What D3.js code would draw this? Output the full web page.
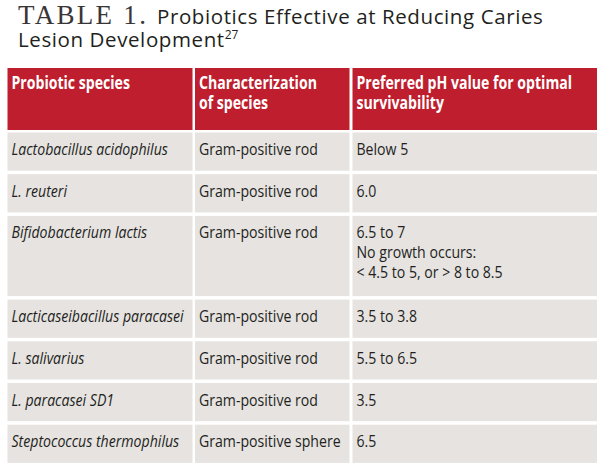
<!DOCTYPE html>
<html><head><meta charset="utf-8">
<script src="https://cdn.jsdelivr.net/npm/d3@7"></script>
<style>html,body{margin:0;padding:0;background:#fff}svg{display:block}</style></head>
<body><svg id="c" width="609" height="471"></svg>
<script>
// ---- data ----
const titleLead = "TABLE 1.";
const titleLine1 = "Probiotics Effective at Reducing Caries";
const titleLine2 = "Lesion Development";
const titleRef = "27";
const headers = [["Probiotic species"], ["Characterization", "of species"], ["Preferred pH value for optimal", "survivability"]];
const species = ["Lactobacillus acidophilus", "L. reuteri", "Bifidobacterium lactis", "Lacticaseibacillus paracasei", "L. salivarius", "L. paracasei SD1", "Steptococcus thermophilus"];
const characterization = ["Gram-positive rod", "Gram-positive rod", "Gram-positive rod", "Gram-positive rod", "Gram-positive rod", "Gram-positive rod", "Gram-positive sphere"];
const phValues = [["Below 5"], ["6.0"], ["6.5 to 7", "No growth occurs:", "< 4.5 to 5, or > 8 to 8.5"], ["3.5 to 3.8"], ["5.5 to 6.5"], ["3.5"], ["6.5"]];

// ---- layout ----
const RED = "#be1e2d", GRAY = "#e6e3e0", INK = "#231f20";
const FONT = "'Open Sans', 'Noto Sans', sans-serif";
const SX = 0.83; // horizontal condensing to mimic a condensed face
const svg = d3.select("#c");

const colX = d3.scaleOrdinal().domain([0, 1, 2]).range([7.5, 195, 352.5]);
const colW = d3.scaleOrdinal().domain([0, 1, 2]).range([185, 154.5, 244.5]);

const headerTop = 68, headerH = 62, rowBase = 38.2, lineStep = 21, gap = 3.5, padX = 4, baseOff = 22.5;

const rows = species.map((s, i) => ({ cells: [[s], [characterization[i]], phValues[i]] }));
let y = headerTop + headerH + 2.5;
rows.forEach(r => {
  const n = d3.max(r.cells, c => c.length);
  r.y = y; r.h = rowBase + (n - 1) * lineStep; y += r.h + gap;
});

// one text element per cell, lines as tspans
function condText(g, x, yy, lines, step, o) {
  const tx = g.append("text")
    .attr("transform", `translate(${x},${yy}) scale(${SX},1)`)
    .attr("font-family", FONT).attr("font-size", o.size)
    .attr("font-weight", o.weight || "normal").attr("font-style", o.style || "normal")
    .attr("fill", o.fill);
  lines.forEach((l, li) => tx.append("tspan").attr("x", 0).attr("y", li * step).text(l));
  return tx;
}

// title (single text element)
const SANS = "'Open Sans', 'Noto Sans', sans-serif";
const t = svg.append("text").attr("fill", INK).attr("font-family", SANS).attr("font-size", 20.5);
t.append("tspan").attr("x", 18).attr("y", 24).text(titleLead)
  .attr("font-family", "'Liberation Serif', 'DejaVu Serif', serif").attr("font-size", 27)
  .attr("letter-spacing", 2.3).attr("fill", "#3a3536");
t.append("tspan").attr("x", 157).attr("y", 24).attr("letter-spacing", 0.6).text(titleLine1);
t.append("tspan").attr("x", 18).attr("y", 46.5).attr("letter-spacing", 0.6).text(titleLine2);
t.append("tspan").attr("dy", -8).attr("font-size", 12).text(titleRef);

// header
const hg = svg.append("g");
headers.forEach((lines, ci) => {
  hg.append("rect").attr("x", colX(ci)).attr("y", headerTop).attr("width", colW(ci)).attr("height", headerH).attr("fill", RED);
  condText(hg, colX(ci) + padX, headerTop + 21, lines, 20.5, { size: 17, weight: "bold", fill: "#fff" });
});

// body
const rg = svg.selectAll("g.row").data(rows).join("g").attr("class", "row");
rg.each(function (r) {
  const g = d3.select(this);
  r.cells.forEach((lines, ci) => {
    g.append("rect").attr("x", colX(ci)).attr("y", r.y).attr("width", colW(ci)).attr("height", r.h).attr("fill", GRAY);
    condText(g, colX(ci) + padX, r.y + baseOff, lines, 20,
      { size: 17, style: ci === 0 ? "italic" : "normal", fill: INK });
  });
});
</script></body></html>
